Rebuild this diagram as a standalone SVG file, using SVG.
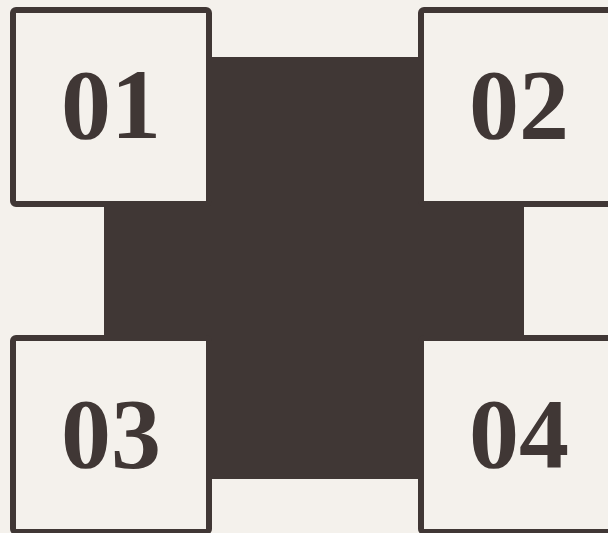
<svg xmlns="http://www.w3.org/2000/svg" width="608" height="533" viewBox="0 0 608 533">
<style>
.box rect{fill:#f4f1ec;stroke:#403735;stroke-width:6}
.box text{font-family:"Liberation Serif","DejaVu Serif",serif;font-weight:bold;font-size:100px;fill:#403735;text-anchor:middle}
</style>
<rect x="0" y="0" width="608" height="533" fill="#f4f1ec"/>
<g id="center">
<rect x="104" y="57" width="420" height="422" fill="#403735"/>
</g>
<g id="connectors"></g>
<g id="n01" class="box"><rect x="13" y="10" width="196" height="194" rx="3"/><text x="111" y="138">01</text></g>
<g id="n02" class="box"><rect x="421" y="10" width="196" height="194" rx="3"/><text x="519" y="138">02</text></g>
<g id="n03" class="box"><rect x="13" y="338" width="196" height="194" rx="3"/><text x="111" y="467">03</text></g>
<g id="n04" class="box"><rect x="421" y="338" width="196" height="194" rx="3"/><text x="519" y="467">04</text></g>
</svg>
